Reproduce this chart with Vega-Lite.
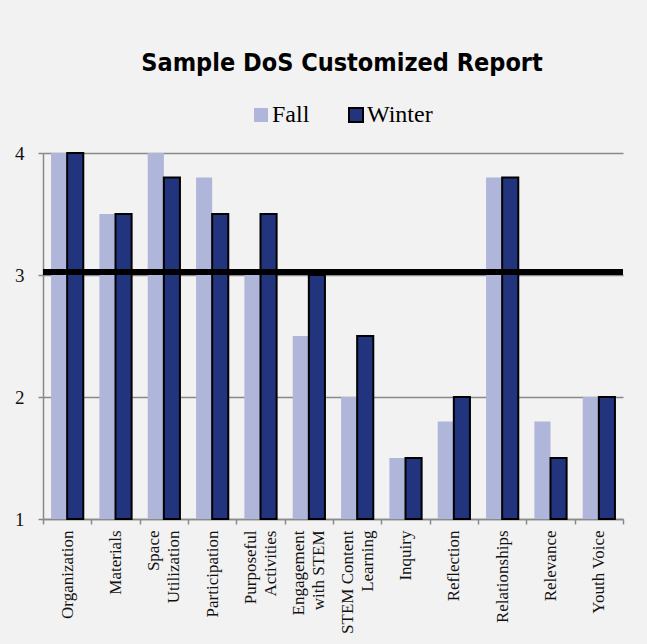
{
  "$schema": "https://vega.github.io/schema/vega-lite/v6.json",
  "width": 580,
  "height": 366,
  "autosize": {"type": "none"},
  "padding": {"left": 43, "top": 153, "right": 24, "bottom": 125},
  "background": "#f2f2f2",
  "title": {
    "text": "Sample DoS Customized Report",
    "font": "'DejaVu Sans Condensed', 'Liberation Sans', sans-serif",
    "fontSize": 25,
    "fontWeight": "bold",
    "color": "#000000",
    "anchor": "middle",
    "dx": 9,
    "offset": 27
  },
  "data": {
    "values": [
      {"category": "Organization", "series": "Fall", "value": 4.0},
      {"category": "Organization", "series": "Winter", "value": 4.0},
      {"category": "Materials", "series": "Fall", "value": 3.5},
      {"category": "Materials", "series": "Winter", "value": 3.5},
      {"category": "Space|Utilization", "series": "Fall", "value": 4.0},
      {"category": "Space|Utilization", "series": "Winter", "value": 3.8},
      {"category": "Participation", "series": "Fall", "value": 3.8},
      {"category": "Participation", "series": "Winter", "value": 3.5},
      {"category": "Purposeful|Activities", "series": "Fall", "value": 3.0},
      {"category": "Purposeful|Activities", "series": "Winter", "value": 3.5},
      {"category": "Engagement|with STEM", "series": "Fall", "value": 2.5},
      {"category": "Engagement|with STEM", "series": "Winter", "value": 3.0},
      {"category": "STEM Content|Learning", "series": "Fall", "value": 2.0},
      {"category": "STEM Content|Learning", "series": "Winter", "value": 2.5},
      {"category": "Inquiry", "series": "Fall", "value": 1.5},
      {"category": "Inquiry", "series": "Winter", "value": 1.5},
      {"category": "Reflection", "series": "Fall", "value": 1.8},
      {"category": "Reflection", "series": "Winter", "value": 2.0},
      {"category": "Relationships", "series": "Fall", "value": 3.8},
      {"category": "Relationships", "series": "Winter", "value": 3.8},
      {"category": "Relevance", "series": "Fall", "value": 1.8},
      {"category": "Relevance", "series": "Winter", "value": 1.5},
      {"category": "Youth Voice", "series": "Fall", "value": 2.0},
      {"category": "Youth Voice", "series": "Winter", "value": 2.0}
    ]
  },
  "layer": [
    {
      "mark": {"type": "bar", "strokeWidth": 2},
      "encoding": {
        "x": {
          "field": "category",
          "type": "nominal",
          "sort": null,
          "title": null,
          "scale": {"paddingInner": 0, "paddingOuter": 0},
          "axis": {
            "labelExpr": "indexof(datum.label, '|') >= 0 ? [split(datum.label, '|')[0], '\u2800', split(datum.label, '|')[1]] : ['\u00a0', datum.label]",
            "labelAngle": 270,
            "labelAlign": "right",
            "labelBaseline": "middle",
            "labelFont": "Liberation Serif",
            "labelFontSize": 17,
            "labelColor": "#111111",
            "labelLineHeight": 10,
            "labelOffset": -10,
            "labelPadding": 6,
            "tickBand": "extent",
            "tickSize": 5,
            "tickColor": "#898989",
            "tickWidth": 1.5,
            "domainColor": "#898989",
            "domainWidth": 1.5,
            "labelOverlap": false
          }
        },
        "xOffset": {
          "field": "series",
          "type": "nominal",
          "sort": ["Fall", "Winter"],
          "scale": {"paddingInner": 0, "paddingOuter": 0.5}
        },
        "y": {
          "field": "value",
          "type": "quantitative",
          "title": null,
          "scale": {"domain": [1, 4], "nice": false, "zero": false},
          "axis": {
            "values": [1, 2, 3, 4],
            "format": "d",
            "labelFont": "Liberation Serif",
            "labelFontSize": 19,
            "labelColor": "#111111",
            "labelPadding": 14,
            "tickSize": 5,
            "tickColor": "#898989",
            "tickWidth": 1.5,
            "domainColor": "#898989",
            "domainWidth": 1.5,
            "grid": true,
            "gridColor": "#898989",
            "gridWidth": 1.5
          }
        },
        "y2": {"datum": 1},
        "fill": {
          "field": "series",
          "type": "nominal",
          "scale": {"domain": ["Fall", "Winter"], "range": ["#b0b5da", "#22347e"]},
          "legend": {
            "title": null,
            "orient": "none",
            "legendX": 206,
            "legendY": -50,
            "direction": "horizontal",
            "symbolType": "square",
            "symbolSize": 196,
            "symbolStrokeWidth": 2,
            "labelFont": "Liberation Serif",
            "labelFontSize": 24,
            "labelColor": "#000000",
            "labelOffset": -1,
            "columnPadding": 34
          }
        },
        "stroke": {
          "field": "series",
          "type": "nominal",
          "scale": {"domain": ["Fall", "Winter"], "range": ["transparent", "#000000"]}
        }
      }
    },
    {
      "mark": {"type": "rule", "color": "#000000", "strokeWidth": 5},
      "encoding": {"y": {"datum": 3.025}}
    }
  ],
  "config": {
    "view": {"stroke": null},
    "legend": {"labelFont": "Liberation Serif", "labelFontSize": 24, "labelColor": "#000000"}
  }
}
